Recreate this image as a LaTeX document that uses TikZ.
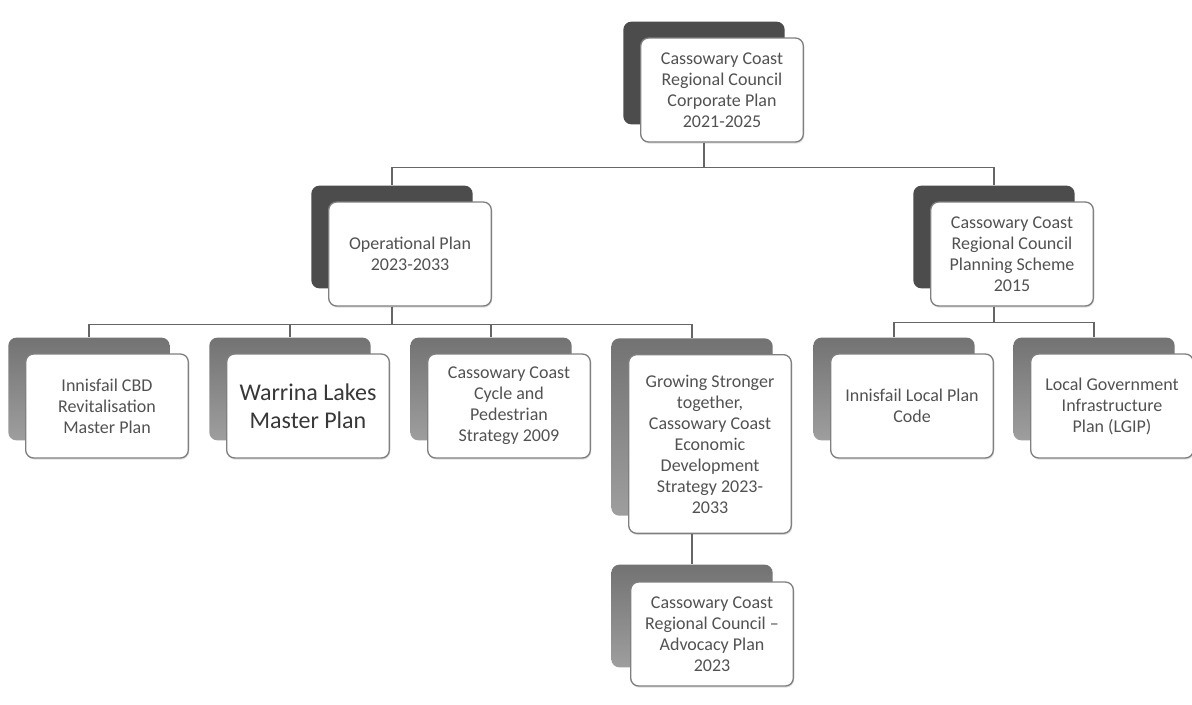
\documentclass[tikz,border=0pt]{standalone}
\usepackage{fontspec}
\setmainfont{Carlito}
\usetikzlibrary{shadows}

\begin{document}
\begin{tikzpicture}[x=0.75pt,y=-0.75pt,
        card/.style={draw=black!50,line width=1pt,fill=white,rounded corners=6pt,
            minimum width=122pt,minimum height=78pt,align=center,text=black!68,
            font=\fontsize{13.5}{15.75}\selectfont,
            drop shadow={shadow xshift=0.6pt,shadow yshift=-1.2pt,opacity=0.25}},
        darkback/.style={fill=black!70,rounded corners=6pt,minimum width=121pt,minimum height=77pt},
        lightback/.style={top color=black!55,bottom color=black!38,rounded corners=6pt,
            minimum width=121pt,minimum height=77pt},
        conn/.style={draw=black!60,line width=1pt}]

    \useasboundingbox[fill=white] (0,0) rectangle (1192,704);

    % back cards
    \node[darkback] (corpbk) at (704,73) {};
    \node[darkback] (opsbk) at (392,237) {};
    \node[darkback] (schemebk) at (994,237) {};
    \node[lightback] (cbdbk) at (89,389) {};
    \node[lightback] (warrinabk) at (290,389) {};
    \node[lightback] (cyclebk) at (491,389) {};
    \node[lightback,minimum height=133pt] (econbk) at (692,427) {};
    \node[lightback] (lpcodebk) at (894,389) {};
    \node[lightback] (lgipbk) at (1094,389) {};
    \node[lightback] (advocbk) at (692,616) {};

    % front cards
    \node[card] (corp) at (722,90) {Cassowary Coast\\Regional Council\\Corporate Plan\\2021-2025};
    \node[card] (ops) at (410,254) {Operational Plan\\2023-2033};
    \node[card] (scheme) at (1012,254) {Cassowary Coast\\Regional Council\\Planning Scheme\\2015};
    \node[card] (cbd) at (107,406) {Innisfail CBD\\Revitalisation\\Master Plan};
    \node[card,font=\fontsize{18}{21}\selectfont,text=black!78] (warrina) at (308,406) {Warrina Lakes\\Master Plan};
    \node[card] (cycle) at (509,406) {Cassowary Coast\\Cycle and\\Pedestrian\\Strategy 2009};
    \node[card,minimum height=134pt] (econ) at (710,444) {Growing Stronger\\together,\\Cassowary Coast\\Economic\\Development\\Strategy 2023-\\2033};
    \node[card] (lpcode) at (912,406) {Innisfail Local Plan\\Code};
    \node[card] (lgip) at (1112,406) {Local Government\\Infrastructure\\Plan (LGIP)};
    \node[card] (advoc) at (712,634) {Cassowary Coast\\Regional Council --\\Advocacy Plan\\2023};

    % connectors
    \draw[conn] (corpbk |- corp.south) -- ++(0,25) -| (opsbk.north);
    \draw[conn] (corpbk |- corp.south) -- ++(0,25) -| (schemebk.north);
    \foreach \c in {cbdbk,warrinabk,cyclebk,econbk}
        \draw[conn] (opsbk |- ops.south) -- ++(0,18) -| (\c.north);
    \foreach \c in {lpcodebk,lgipbk}
        \draw[conn] (schemebk |- scheme.south) -- ++(0,16) -| (\c.north);
    \draw[conn] (econbk |- econ.south) -- (advocbk.north);
\end{tikzpicture}
\end{document}
